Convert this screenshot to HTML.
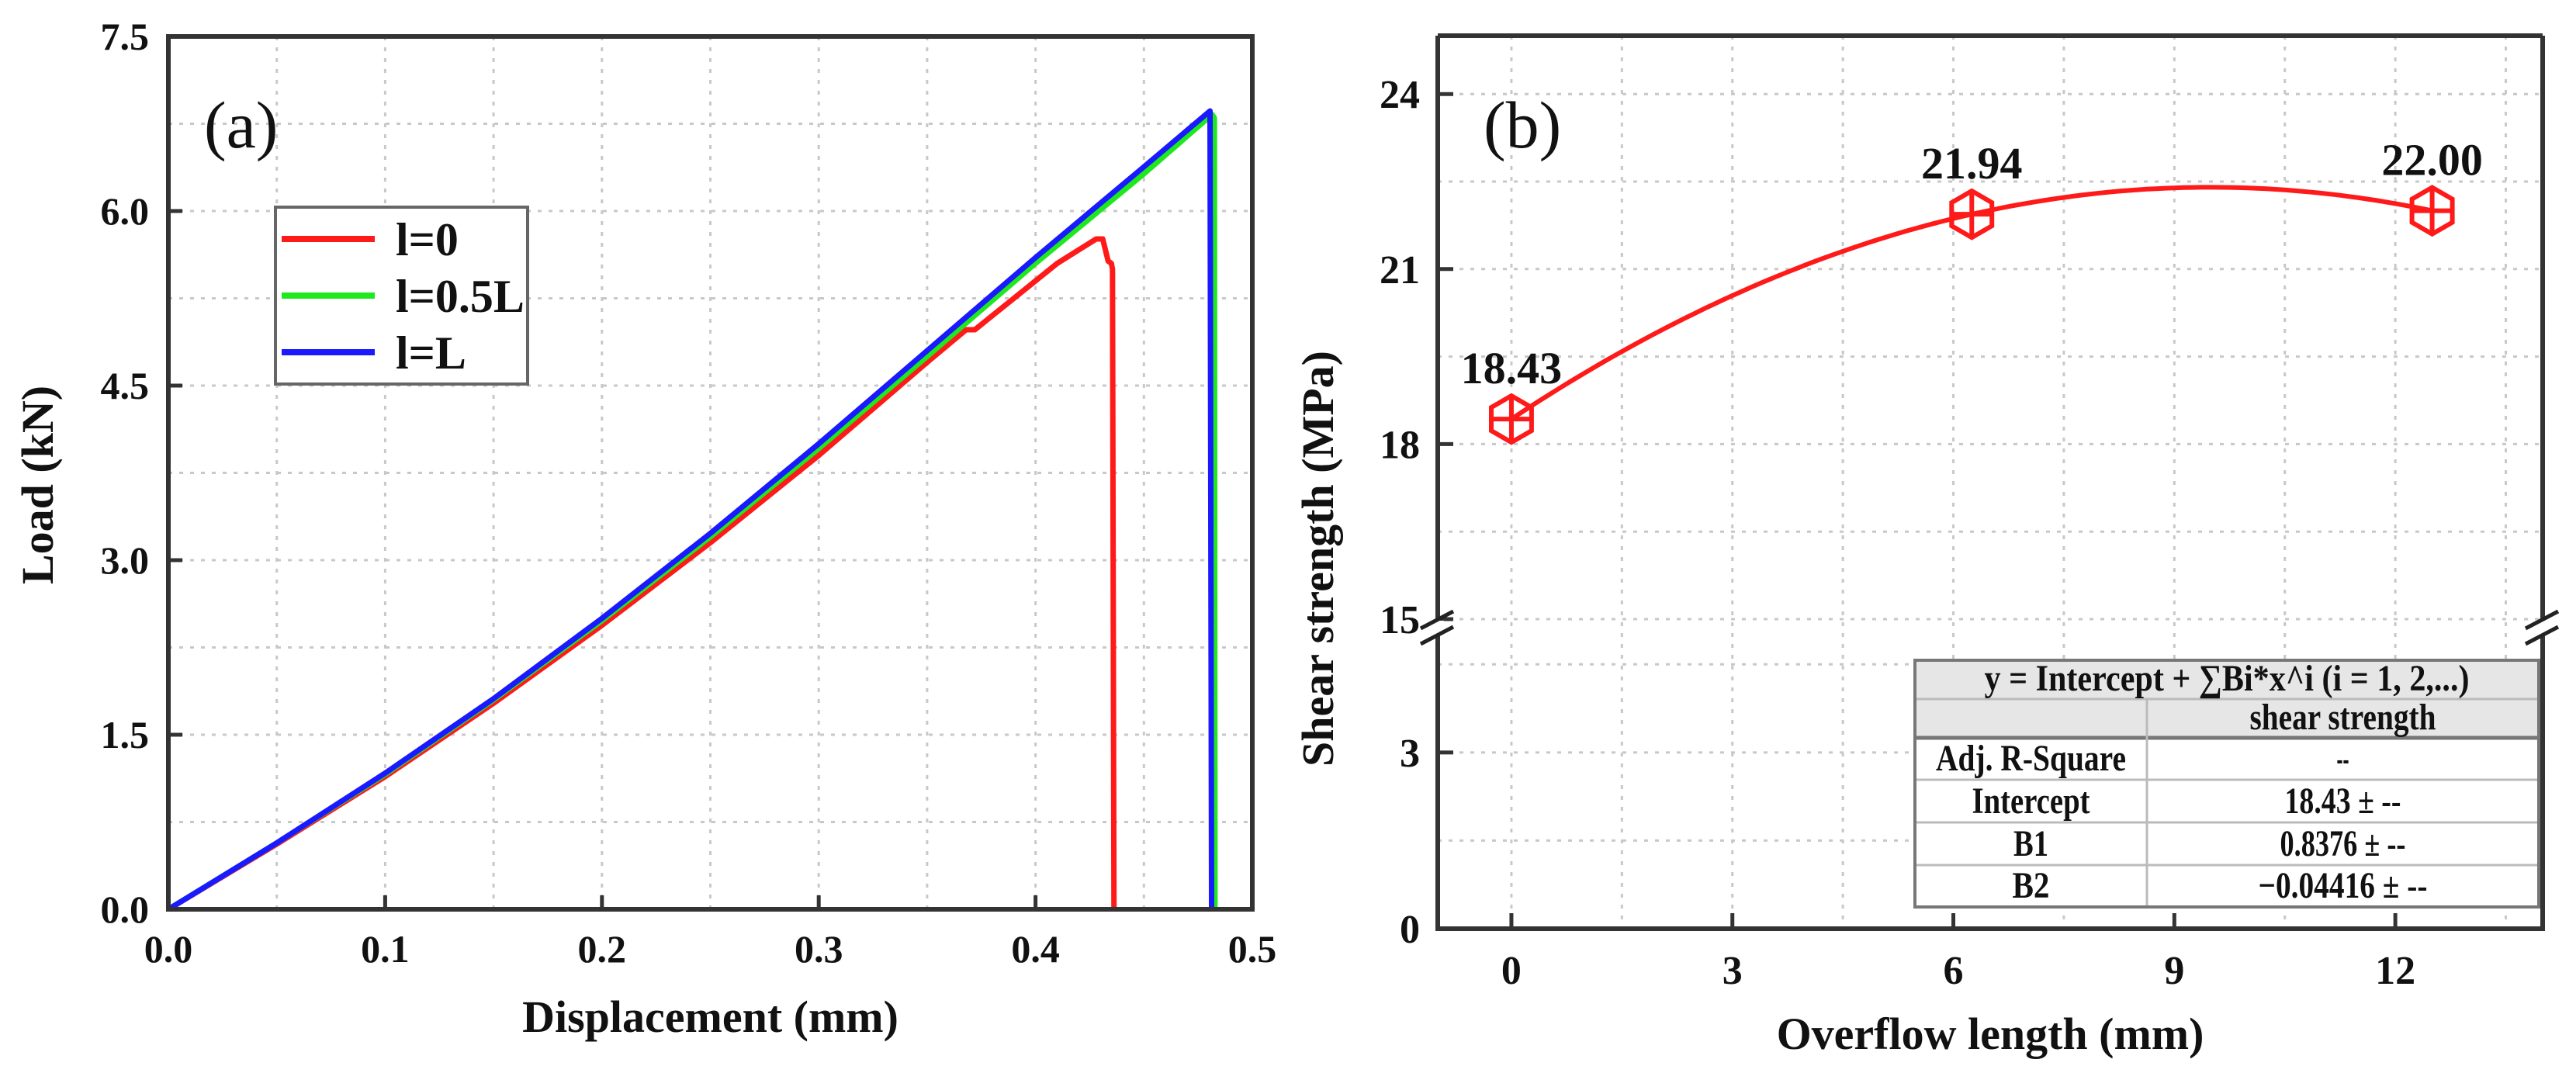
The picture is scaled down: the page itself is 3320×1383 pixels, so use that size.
<!DOCTYPE html>
<html><head><meta charset="utf-8">
<style>
html,body{margin:0;padding:0;background:#fff;}
svg{display:block;}
text{font-family:"Liberation Serif","Times New Roman",serif;font-weight:bold;fill:#111;}
</style></head>
<body>
<svg id="fig" width="3320" height="1383" viewBox="0 0 3320 1383" xmlns="http://www.w3.org/2000/svg">
<rect width="3320" height="1383" fill="#fff"/>
<g id="pa"></g>
<g id="pb"></g>
</svg>
<script>
// ---------- Panel (a) data ----------
const aXTicks = [0.0, 0.1, 0.2, 0.3, 0.4, 0.5];
const aYTicks = [0.0, 1.5, 3.0, 4.5, 6.0, 7.5];
const seriesNames = ["l=0", "l=0.5L", "l=L"];
const seriesColors = ["#ff1a1a", "#1ee81e", "#1a1aff"];
const redX = [0, 0.05, 0.1, 0.15, 0.2, 0.25, 0.3, 0.35, 0.368, 0.372, 0.39, 0.41, 0.428, 0.431, 0.4335, 0.435, 0.4355, 0.4362];
const redY = [0, 0.56, 1.14, 1.77, 2.44, 3.15, 3.90, 4.70, 4.98, 4.98, 5.25, 5.55, 5.76, 5.76, 5.57, 5.55, 5.5, 0];
const greenX = [0, 0.05, 0.1, 0.15, 0.2, 0.25, 0.3, 0.35, 0.4, 0.45, 0.4815, 0.4825, 0.4828];
const greenY = [0, 0.57, 1.16, 1.80, 2.48, 3.20, 3.96, 4.75, 5.55, 6.32, 6.83, 6.80, 0];
const blueX = [0, 0.05, 0.1, 0.15, 0.2, 0.25, 0.3, 0.35, 0.4, 0.45, 0.4805, 0.4812];
const blueY = [0, 0.57, 1.17, 1.81, 2.50, 3.23, 4.00, 4.80, 5.60, 6.38, 6.86, 0];

// ---------- Panel (b) data ----------
const bXTicks = [0, 3, 6, 9, 12];
const bYTicksUpper = [15, 18, 21, 24];
const bYTicksLower = [0, 3];
const bPointX = [0, 6.25, 12.5];
const bPointY = [18.43, 21.94, 22.00];
const bPointLabels = ["18.43", "21.94", "22.00"];
const fitCoef = [18.43, 0.8376, -0.04416];
const tableRows = [["Adj. R-Square", "--"], ["Intercept", "18.43 \u00b1 --"], ["B1", "0.8376 \u00b1 --"], ["B2", "\u22120.04416 \u00b1 --"]];

const NS = "http://www.w3.org/2000/svg";
function mk(parent, tag, attrs, txt) {
  const e = document.createElementNS(NS, tag);
  for (const k in attrs) e.setAttribute(k, attrs[k]);
  if (txt !== undefined) e.textContent = txt;
  parent.appendChild(e);
  return e;
}
const GRID = {stroke: "#c8c8c8", "stroke-width": 3, "stroke-dasharray": "5 9"};

// ================= Panel (a) =================
const pa = document.getElementById("pa");
const aL = 217, aR = 1614, aT = 47, aB = 1172;
const ax = v => aL + (v - 0) / 0.5 * (aR - aL);
const ay = v => aB - v / 7.5 * (aB - aT);

for (let v = 0.05; v < 0.5; v += 0.05) {
  const g = mk(pa, "line", Object.assign({x1: ax(v), x2: ax(v), y1: aT, y2: aB}, GRID));
  
  
}
for (let v = 0.75; v < 7.5; v += 0.75) {
  const g = mk(pa, "line", Object.assign({x1: aL, x2: aR, y1: ay(v), y2: ay(v)}, GRID));
  
  
}
aXTicks.forEach(v => {
  const t = mk(pa, "line", {x1: ax(v), x2: ax(v), y1: aB, y2: aB - 18, stroke: "#333", "stroke-width": 5});
  
  
  const l = mk(pa, "text", {x: ax(v), y: 1240, "font-size": 50, "text-anchor": "middle"}, v.toFixed(1));
  
  
});
aYTicks.forEach(v => {
  const t = mk(pa, "line", {x1: aL, x2: aL + 18, y1: ay(v), y2: ay(v), stroke: "#333", "stroke-width": 5});
  
  
  const l = mk(pa, "text", {x: 192, y: ay(v) + 17, "font-size": 50, "text-anchor": "end"}, v.toFixed(1));
  
  
});
[[redX, redY], [greenX, greenY], [blueX, blueY]].forEach((s, i) => {
  const pts = s[0].map((x, j) => ax(x).toFixed(1) + "," + ay(s[1][j]).toFixed(1)).join(" ");
  const p = mk(pa, "polyline", {points: pts, fill: "none", stroke: seriesColors[i], "stroke-width": 7, "stroke-linejoin": "round"});
  
  
});
const aFrame = mk(pa, "rect", {x: aL, y: aT, width: aR - aL, height: aB - aT, fill: "none", stroke: "#333", "stroke-width": 6});


const lg = mk(pa, "g", {});


mk(lg, "rect", {x: 355, y: 267, width: 325, height: 228, fill: "#fff", stroke: "#666", "stroke-width": 4});
seriesNames.forEach((n, i) => {
  const yy = 308 + i * 73;
  const e = mk(lg, "g", {});
  
  
  mk(e, "line", {x1: 363, x2: 483, y1: yy, y2: yy, stroke: seriesColors[i], "stroke-width": 8});
  mk(e, "text", {x: 510, y: yy + 21, "font-size": 60}, n);
});
const la = mk(pa, "text", {x: 263, y: 190, "font-size": 86, style: "font-weight:normal"}, "(a)");


const axt = mk(pa, "text", {x: (aL + aR) / 2, y: 1330, "font-size": 58, "text-anchor": "middle"}, "Displacement (mm)");


const ayt = mk(pa, "text", {x: 0, y: 0, "font-size": 58, "text-anchor": "middle", transform: "translate(68,625) rotate(-90)"}, "Load (kN)");



// ================= Panel (b) =================
const pb = document.getElementById("pb");
const bL = 1853, bR = 3277, bT = 46, bB = 1197, brk = 798;
const bx = v => bL + (v + 1) / 15 * (bR - bL);
const byU = v => brk - (v - 15) / 10 * (brk - bT);
const byL = v => bB - v / 5.27 * (bB - brk);

for (let v = 0; v <= 13.5; v += 1.5) {
  const g = mk(pb, "line", Object.assign({x1: bx(v), x2: bx(v), y1: bT, y2: bB}, GRID));
  
  
}
for (let v = 15; v < 25; v += 1.5) {
  const g = mk(pb, "line", Object.assign({x1: bL, x2: bR, y1: byU(v), y2: byU(v)}, GRID));
  
  
}
for (let v = 1.5; v < 5.27; v += 1.5) {
  const g = mk(pb, "line", Object.assign({x1: bL, x2: bR, y1: byL(v), y2: byL(v)}, GRID));
  
  
}
bXTicks.forEach(v => {
  const t = mk(pb, "line", {x1: bx(v), x2: bx(v), y1: bB, y2: bB - 20, stroke: "#333", "stroke-width": 5});
  
  
  const l = mk(pb, "text", {x: bx(v), y: 1268, "font-size": 52, "text-anchor": "middle"}, String(v));
  
  
});
bYTicksUpper.forEach(v => {
  const t = mk(pb, "line", {x1: bL, x2: bL + 20, y1: byU(v), y2: byU(v), stroke: "#333", "stroke-width": 5});
  
  
  const l = mk(pb, "text", {x: 1830, y: byU(v) + 18, "font-size": 52, "text-anchor": "end"}, String(v));
  
  
});
bYTicksLower.forEach(v => {
  const t = mk(pb, "line", {x1: bL, x2: bL + 20, y1: byL(v), y2: byL(v), stroke: "#333", "stroke-width": 5});
  
  
  const l = mk(pb, "text", {x: 1830, y: byL(v) + 18, "font-size": 52, "text-anchor": "end"}, String(v));
  
  
});
let fpts = [];
for (let i = 0; i <= 100; i++) {
  const x = bPointX[0] + (bPointX[2] - bPointX[0]) * i / 100;
  const y = fitCoef[0] + fitCoef[1] * x + fitCoef[2] * x * x;
  fpts.push(bx(x).toFixed(1) + "," + byU(y).toFixed(1));
}
const fc = mk(pb, "polyline", {points: fpts.join(" "), fill: "none", stroke: "#ff1a1a", "stroke-width": 6});


bPointX.forEach((x, i) => {
  const cx = bx(x), cy = byU(bPointY[i]), r = 30;
  let hp = [];
  for (let k = 0; k < 6; k++) { const a = Math.PI / 2 + k * Math.PI / 3; hp.push((cx + r * Math.cos(a)).toFixed(1) + "," + (cy + r * Math.sin(a)).toFixed(1)); }
  const g = mk(pb, "g", {});
  
  
  mk(g, "polygon", {points: hp.join(" "), fill: "none", stroke: "#ff1a1a", "stroke-width": 6});
  mk(g, "line", {x1: cx - r * 0.87, x2: cx + r * 0.87, y1: cy, y2: cy, stroke: "#ff1a1a", "stroke-width": 6});
  mk(g, "line", {x1: cx, x2: cx, y1: cy - r, y2: cy + r, stroke: "#ff1a1a", "stroke-width": 6});
  const l = mk(pb, "text", {x: cx, y: cy - 46, "font-size": 58, "text-anchor": "middle"}, bPointLabels[i]);
  
  
});
const tb = mk(pb, "g", {});


const tL = 2468, tR = 3272, tC = 2767;
const rowY = [851, 901, 951, 1005, 1060, 1115, 1169];
mk(tb, "rect", {x: tL, y: rowY[0], width: tR - tL, height: rowY[2] - rowY[0], fill: "#e6e6e6"});
mk(tb, "rect", {x: tL, y: rowY[2], width: tR - tL, height: rowY[6] - rowY[2], fill: "#fff"});
for (let i = 1; i < 6; i++) {
  mk(tb, "line", {x1: tL, x2: tR, y1: rowY[i], y2: rowY[i], stroke: i == 2 ? "#777" : "#bbb", "stroke-width": i == 2 ? 5 : 3});
}
mk(tb, "line", {x1: tC, x2: tC, y1: rowY[1], y2: rowY[6], stroke: "#bbb", "stroke-width": 3});
mk(tb, "rect", {x: tL, y: rowY[0], width: tR - tL, height: rowY[6] - rowY[0], fill: "none", stroke: "#777", "stroke-width": 4});
mk(tb, "text", {x: (tL + tR) / 2, y: rowY[1] - 11, "font-size": 48, "text-anchor": "middle", textLength: 625, lengthAdjust: "spacingAndGlyphs"}, "y  =  Intercept + \u2211Bi*x^i (i  =  1, 2,...)");
mk(tb, "text", {x: (tC + tR) / 2, y: rowY[2] - 11, "font-size": 48, "text-anchor": "middle", textLength: 240, lengthAdjust: "spacingAndGlyphs"}, "shear strength");
const leftLen = [245, 152, 45, 48];
const rightLen = [16, 150, 162, 218];
tableRows.forEach((r, i) => {
  const y = rowY[i + 3] - 12;
  mk(tb, "text", {x: (tL + tC) / 2, y: y, "font-size": 48, "text-anchor": "middle", textLength: leftLen[i], lengthAdjust: "spacingAndGlyphs"}, r[0]);
  mk(tb, "text", {x: (tC + tR) / 2, y: y, "font-size": 48, "text-anchor": "middle", textLength: rightLen[i], lengthAdjust: "spacingAndGlyphs"}, r[1]);
});
const fr = mk(pb, "g", {});


mk(fr, "line", {x1: bL, x2: bR, y1: bT, y2: bT, stroke: "#333", "stroke-width": 6});
mk(fr, "line", {x1: bL - 3, x2: bR + 3, y1: bB, y2: bB, stroke: "#333", "stroke-width": 6});
[bL, bR].forEach(x => {
  mk(fr, "line", {x1: x, x2: x, y1: bT, y2: brk + 2, stroke: "#333", "stroke-width": 6});
  mk(fr, "line", {x1: x, x2: x, y1: brk + 22, y2: bB, stroke: "#333", "stroke-width": 6});
  mk(fr, "rect", {x: x - 8, y: brk + 2, width: 16, height: 20, fill: "#fff"});
  mk(fr, "line", {x1: x - 22, x2: x + 20, y1: brk + 12, y2: brk - 10, stroke: "#222", "stroke-width": 5});
  mk(fr, "line", {x1: x - 22, x2: x + 20, y1: brk + 32, y2: brk + 10, stroke: "#222", "stroke-width": 5});
});
const lb = mk(pb, "text", {x: 1912, y: 190, "font-size": 86, style: "font-weight:normal"}, "(b)");


const bxt = mk(pb, "text", {x: 2565, y: 1352, "font-size": 58, "text-anchor": "middle"}, "Overflow length (mm)");


const byt = mk(pb, "text", {x: 0, y: 0, "font-size": 58, "text-anchor": "middle", transform: "translate(1718,720) rotate(-90)"}, "Shear strength (MPa)");


</script>
</body></html>
